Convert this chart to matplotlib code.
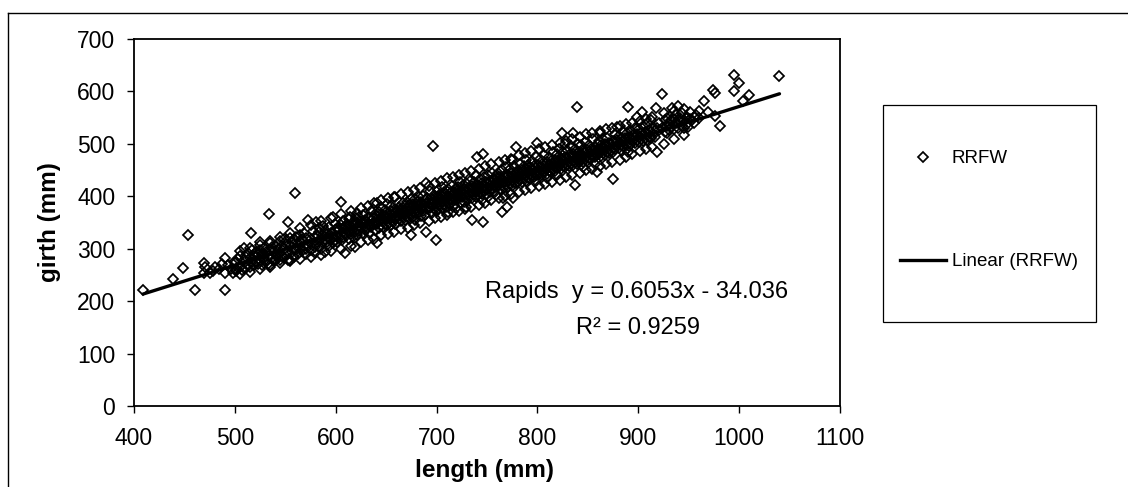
import matplotlib
matplotlib.use("Agg")
import matplotlib.pyplot as plt
from matplotlib.lines import Line2D
from matplotlib.patches import Rectangle

plt.rcParams['font.family'] = ['Liberation Sans', 'DejaVu Sans']

# ---- data: (length mm, girth mm) ----
obs_400 = [(409,221),(439,242),(449,263),(454,326),(460,221),(469,272),(469,253),(470,265),(475,253),(478,257),
           (480,265),(484,262),(487,270),(490,282),(490,253),(490,221),(493,268),(496,262),(498,253),(499,275)]
obs_500 = [(501,258),(501,275),(501,262),(503,281),(505,266),(505,287),(507,260),(509,301),(509,278),(511,263),
           (511,284),(513,270),(513,292),(515,283),(515,266),(516,330),(517,274),(517,298),(519,287),(519,268),
           (521,276),(521,293),(523,288),(523,270),(525,279),(525,297),(525,312),(527,268),(527,290),(529,283),
           (529,301),(531,275),(531,294),(533,270),(533,286),(534,366),(535,269),(535,298),(535,310),(537,283),
           (537,304),(539,276),(539,295)]
obs_540 = [(541,288),(541,305),(541,279),(543,299),(543,283),(545,292),(545,314),(545,278),(547,287),(547,306),
           (549,300),(549,318),(549,282),(551,291),(551,309),(553,296),(553,351),(553,278),(555,279),(555,305),
           (555,320),(557,293),(557,312),(559,300),(559,285),(560,406),(560,316),
           (561,298),(561,322),(563,311),(563,290),(565,302),(565,327),(565,315),(567,296),(567,318),(569,305),
           (569,330),(571,300),(571,320),(571,289),(573,355),(573,308),(575,318),(575,297),(577,310),(577,333),
           (579,292),(579,322),(579,303),(580,351)]
obs_580 = [(581,312),(581,326),(583,305),(583,331),(583,340),(585,318),(585,299),(587,326),(587,310),(587,344),
           (589,294),(589,318),(589,335),(591,313),(591,329),(593,320),(593,306),(593,341),(595,330),(595,316),
           (597,361),(597,322),(597,310),(599,335),(599,317),(599,348),
           (601,325),(601,340),(601,312),(603,337),(603,320),(605,389),(605,328),(605,345),(606,316),(607,340),
           (607,322),(607,352),(609,292),(609,330),(609,341),(611,326),(611,348),(613,335),(613,318),(613,356),
           (614,361),(615,343),(615,329),(617,336),(617,351),(617,322),(619,303),(619,345),(619,332),(620,358)]
obs_620 = [(621,338),(621,350),(621,327),(621,368),(623,345),(623,333),(623,360),(625,340),(625,352),(627,330),
           (627,347),(627,365),(629,342),(629,355),(629,335),(631,351),(631,338),(633,345),(633,360),(633,330),
           (635,353),(635,341),(635,372),(637,347),(637,358),(639,336),(639,350),(639,366),(640,355),(641,311),
           (641,387),(641,348),(641,362),(643,352),(643,340),(643,370),
           (645,358),(645,345),(645,366),(645,380),(647,353),(647,364),(647,341),(649,360),(649,348),(649,374),
           (651,356),(651,367),(651,345),(651,385),(653,362),(653,350),(655,359),(655,372),(655,346),(655,381),
           (657,365),(657,353),(659,361),(659,376),(659,348),(659,399),(660,370),(660,357)]
obs_660 = [(661,362),(661,373),(663,368),(663,356),(663,380),(665,365),(665,376),(665,352),(667,372),(667,360),
           (667,388),(669,368),(669,382),(669,355),(671,375),(671,363),(671,390),(673,370),(673,384),(673,358),
           (675,326),(675,377),(675,366),(675,395),(677,372),(677,385),(677,360),(679,380),(679,368),(679,394),
           (679,355),(680,375),(680,386),
           (681,372),(681,390),(681,366),(683,381),(683,370),(683,398),(685,378),(685,389),(685,362),(687,384),
           (687,372),(687,400),(689,380),(689,393),(689,365),(690,332),(690,425),(690,386),(691,375),(691,396),
           (693,388),(693,377),(693,410),(695,384),(695,395),(695,368),(696,496),(697,390),(697,378),(697,402),
           (699,316),(699,386),(699,398),(699,372),(700,393),(700,380)]
obs_700 = [(701,387),(701,399),(701,375),(701,412),(703,394),(703,383),(703,404),(705,390),(705,400),(705,378),
           (705,418),(707,396),(707,385),(707,408),(709,392),(709,404),(709,380),(711,399),(711,388),(711,413),
           (711,370),(713,395),(713,406),(713,385),(715,401),(715,392),(715,420),(717,397),(717,409),(717,384),
           (719,404),(719,393),(719,416),(719,378),(720,399),(720,410),
           (721,405),(721,394),(721,417),(723,400),(723,411),(723,388),(723,428),(725,408),(725,398),(725,420),
           (727,403),(727,414),(727,390),(729,410),(729,399),(729,425),(729,380),(731,405),(731,416),(731,394),
           (733,412),(733,402),(733,430),(735,355),(735,408),(735,419),(735,396),(737,415),(737,404),(737,428),
           (739,410),(739,421),(739,398),(739,440),(740,475),(740,416)]
obs_740 = [(741,411),(741,422),(741,402),(743,418),(743,407),(743,433),(745,414),(745,425),(745,404),(745,392),
           (746,481),(746,351),(747,420),(747,410),(747,437),(749,416),(749,428),(749,405),(751,423),(751,413),
           (751,440),(751,398),(753,419),(753,430),(753,408),(755,426),(755,415),(755,445),(757,421),(757,433),
           (757,410),(759,428),(759,417),(759,438),(759,402),(760,423),(760,435),
           (761,430),(761,419),(761,445),(763,425),(763,436),(763,413),(765,370),(765,432),(765,421),(765,450),
           (766,397),(767,427),(767,439),(767,415),(769,434),(769,423),(769,455),(770,380),(771,430),(771,441),
           (771,418),(773,437),(773,426),(773,452),(775,469),(775,432),(775,444),(775,420),(776,397),(777,439),
           (777,428),(777,458),(779,494),(779,435),(779,446),(779,425),(780,441)]
obs_780 = [(781,436),(781,448),(781,427),(783,443),(783,432),(783,462),(785,438),(785,450),(785,428),(787,445),
           (787,434),(787,458),(789,441),(789,452),(789,430),(789,470),(791,448),(791,437),(791,460),(793,443),
           (793,455),(793,433),(795,450),(795,439),(795,468),(797,445),(797,457),(797,436),(799,453),(799,441),
           (799,475),(799,430),(800,502),(800,447),
           (801,448),(801,460),(801,440),(803,455),(803,444),(803,472),(805,450),(805,462),(805,441),(807,457),
           (807,446),(807,478),(809,453),(809,465),(809,443),(809,435),(811,460),(811,449),(811,475),(813,455),
           (813,467),(813,447),(815,462),(815,451),(815,485),(817,457),(817,469),(817,449),(819,465),(819,454),
           (819,480),(819,440),(820,459),(820,470)]
obs_820 = [(821,466),(821,455),(821,490),(823,461),(823,473),(823,452),(824,521),(825,468),(825,457),(825,485),
           (827,463),(827,475),(827,455),(827,500),(829,471),(829,460),(829,488),(831,466),(831,478),(831,458),
           (833,473),(833,462),(833,495),(835,521),(835,468),(835,480),(835,460),(837,421),(837,476),(837,465),
           (837,490),(839,570),(839,471),(839,483),(839,462),(840,477),(840,500),
           (841,472),(841,484),(841,465),(843,479),(843,468),(843,497),(845,474),(845,486),(845,466),(845,455),
           (847,482),(847,471),(847,503),(849,477),(849,489),(849,468),(851,484),(851,473),(851,498),(853,479),
           (853,491),(853,471),(855,487),(855,476),(855,510),(857,482),(857,494),(857,474),(857,462),(859,446),
           (859,489),(859,478),(860,484),(860,500)]
obs_860 = [(861,490),(861,480),(861,505),(862,521),(863,485),(863,497),(863,476),(865,493),(865,482),(865,510),
           (867,488),(867,500),(867,479),(869,495),(869,485),(869,512),(871,490),(871,502),(871,482),(873,497),
           (873,487),(875,433),(875,493),(875,505),(875,485),(877,500),(877,490),(877,518),(879,532),(879,495),
           (879,507),
           (881,502),(881,492),(881,515),(883,497),(883,509),(883,489),(885,505),(885,495),(885,522),(887,500),
           (887,512),(889,507),(889,497),(889,520),(890,570),(890,484),(891,502),(891,514),(891,495),(893,509),
           (893,499),(893,525),(895,505),(895,516),(897,512),(897,501),(897,530),(899,551),(899,507),(899,518)]
obs_900 = [(901,514),(901,504),(901,528),(903,510),(903,521),(904,561),(905,517),(905,506),(905,535),(907,512),
           (907,523),(909,519),(909,508),(909,540),(911,514),(911,526),(913,522),(913,511),(913,545),(915,517),
           (915,528),(917,524),(917,513),(918,568),(919,484),(919,530),
           (921,526),(921,540),(924,595),(924,530),(926,522),(926,545),(928,521),(928,535),(928,550),(930,526),
           (930,540),(932,545),(932,533),(933,568),(935,528),(935,548),(937,540),(937,555),(939,572),(939,530),
           (939,545)]
obs_940 = [(941,543),(941,550),(943,535),(943,558),(945,545),(945,530),(948,552),(948,538),(949,532),(951,548),
           (951,560),(953,545),(955,551),(955,540),(957,555),(960,550),(960,563),(965,582),(969,561),(974,603),
           (976,597),(976,553),(981,534),(995,631),(995,601),(1000,616),(1004,582),(1010,593),(1040,630)]
# points along the lower and upper edges of the band
obs_edges = [(505,252),(505,296),(515,256),(515,302),(525,262),(525,308),(535,266),(535,314),(545,272),(545,322),
             (555,276),(555,330),(565,280),(565,340),(575,285),(575,346),(585,288),(585,352),(595,296),(595,358),
             (605,300),(605,366),(615,306),(615,372),(625,312),(625,378),(632,316),(632,382),(638,318),(638,388),
             (645,326),(645,392),(652,328),(652,396),(658,332),(658,398),(665,338),(665,404),(672,340),(672,408),
             (678,346),(678,412),(684,350),(684,416),(692,352),(692,420),(698,358),(698,426),(704,360),(704,430),
             (710,364),(710,434),(716,370),(716,436),(722,372),(722,440),(728,376),(728,444),(734,380),(734,448),
             (742,384),(742,452),(748,388),(748,458),(754,392),(754,462),(762,396),(762,466),(768,400),(768,470),
             (774,404),(774,472),(782,408),(782,478),(788,412),(788,482),(794,416),(794,486),(802,420),(802,490),
             (808,424),(808,494),(814,428),(814,498),(822,432),(822,502),(828,436),(828,506),(834,440),(834,510),
             (842,444),(842,514),(848,450),(848,518),(854,452),(854,520),(862,458),(862,524),(868,462),(868,528),
             (874,466),(874,530),(882,470),(882,534),(888,474),(888,538),(894,480),(894,540),(902,486),(902,544),
             (908,490),(908,548),(914,494),(914,552),(925,500),(925,558),(935,510),(935,562),(945,516),(945,566)]

trend_slope = 0.6053
trend_intercept = -34.036
equation_text = "Rapids  y = 0.6053x - 34.036"
r2_text = "R\u00b2 = 0.9259"
series_name = "RRFW"
x_ticks = [400, 500, 600, 700, 800, 900, 1000, 1100]
y_ticks = [0, 100, 200, 300, 400, 500, 600, 700]

groups = [obs_400, obs_500, obs_540, obs_580, obs_620, obs_660, obs_700,
          obs_740, obs_780, obs_820, obs_860, obs_900, obs_940, obs_edges]
points = [p for g in groups for p in g]
length = [p[0] for p in points]
girth = [p[1] for p in points]

W, H = 1128, 487
fig = plt.figure(figsize=(W / 100, H / 100), dpi=100)
ax = fig.add_axes([134 / W, 1 - 406 / H, (840 - 134) / W, (406 - 39) / H])

MS, MEW = 5.4, 1.25
ax.plot(length, girth, linestyle='none', marker='D', markersize=MS,
        markerfacecolor='none', markeredgecolor='black', markeredgewidth=MEW, zorder=2)

x_fit = [min(length), max(length)]
y_fit = [trend_slope * v + trend_intercept for v in x_fit]
ax.plot(x_fit, y_fit, color='black', linewidth=2.4, solid_capstyle='round', zorder=3)

ax.set_xlim(400, 1100)
ax.set_ylim(0, 700)
ax.set_xticks(x_ticks)
ax.set_yticks(y_ticks)
ax.tick_params(axis='both', direction='out', length=5, width=1.0, labelsize=16.5, color='black')
ax.tick_params(axis='x', pad=10)
ax.tick_params(axis='y', pad=8.5)
for s in ax.spines.values():
    s.set_linewidth(1.3)
    s.set_color('black')

ax.set_xlabel("length (mm)", fontsize=17.5, fontweight='bold', va='center')
ax.xaxis.set_label_coords(0.497, -0.176)
ax.set_ylabel("girth (mm)", fontsize=17.5, fontweight='bold', va='center')
ax.yaxis.set_label_coords(-0.119, 0.5)

ax.text((637 - 134) / 706, (406 - 292) / 367, equation_text, transform=ax.transAxes,
        ha='center', va='center', fontsize=17)
ax.text((638 - 134) / 706, (406 - 328) / 367, r2_text, transform=ax.transAxes,
        ha='center', va='center', fontsize=17)

# legend box
fig.patches.append(Rectangle((883 / W, 1 - 322 / H), (1096 - 883) / W, (322 - 105) / H,
                             transform=fig.transFigure, fill=False, edgecolor='black', linewidth=0.9))
h_pts = Line2D([], [], linestyle='none', marker='D', markersize=MS, markerfacecolor='none',
               markeredgecolor='black', markeredgewidth=MEW)
h_line = Line2D([], [], color='black', linewidth=2.4)
leg = fig.legend([h_pts, h_line], [series_name, "Linear (" + series_name + ")"],
                 loc='upper left', bbox_to_anchor=(900 / W, 1 - 150 / H), bbox_transform=fig.transFigure,
                 frameon=False, borderpad=0, borderaxespad=0, fontsize=13.5,
                 handlelength=2.45, handletextpad=0.3, labelspacing=4.6)

# outer chart border (partially visible)
fig.add_artist(Line2D([8 / W, 1.0], [1 - 13 / H, 1 - 13 / H], transform=fig.transFigure,
                      color='black', linewidth=1.0))
fig.add_artist(Line2D([8 / W, 8 / W], [1 - 13 / H, 0.0], transform=fig.transFigure,
                      color='black', linewidth=1.0))

fig.savefig("out.png", dpi=100)
